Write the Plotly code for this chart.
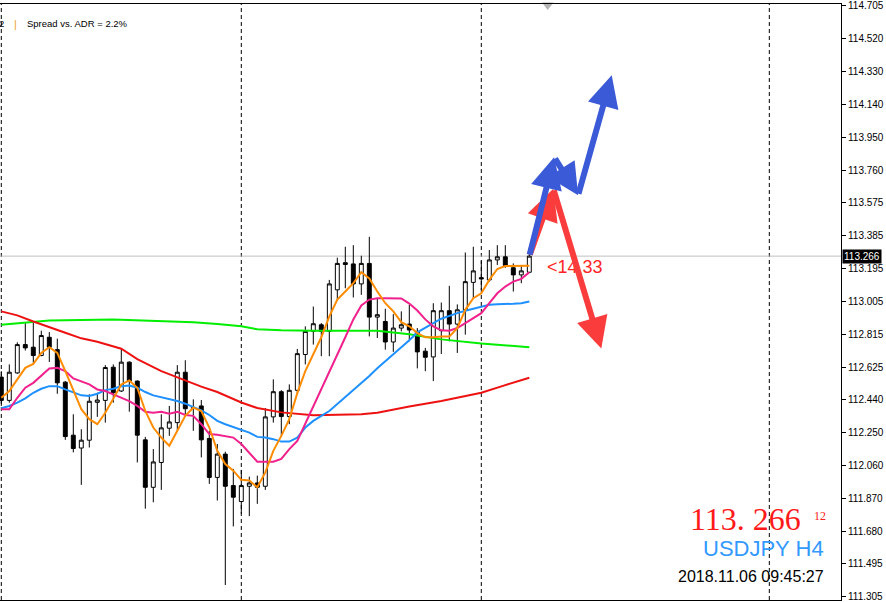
import plotly.graph_objects as go

# ---------------- data (USDJPY H4) ----------------
bars = list(range(67))
open_ = [112.570, 112.436, 112.594, 112.757, 112.742, 112.694, 112.799, 112.728, 112.541, 112.236,
         112.162, 112.207, 112.425, 112.436, 112.627, 112.490, 112.656, 112.547, 112.209, 111.936,
         112.079, 112.276, 112.308, 112.598, 112.395, 112.404, 112.217, 111.993, 112.127, 111.946,
         111.854, 111.942, 111.961, 111.942, 112.341, 112.486, 112.343, 112.494, 112.700, 112.833,
         112.871, 112.833, 113.072, 113.228, 113.221, 113.106, 113.224, 112.915, 112.890, 112.772,
         112.852, 112.875, 112.833, 112.719, 112.686, 112.837, 112.952, 112.875, 112.957, 113.115,
         113.142, 113.129, 113.244, 113.262, 113.199, 113.158, 113.173]
high = [112.604, 112.643, 112.770, 112.881, 112.886, 112.837, 112.829, 112.791, 112.547, 112.356,
        112.270, 112.471, 112.480, 112.639, 112.643, 112.734, 112.661, 112.551, 112.226, 112.156,
        112.356, 112.404, 112.639, 112.667, 112.442, 112.438, 112.261, 112.185, 112.141, 112.042,
        112.036, 111.997, 112.003, 112.392, 112.557, 112.495, 112.528, 112.732, 112.862, 112.976,
        112.881, 113.129, 113.257, 113.320, 113.329, 113.268, 113.377, 113.024, 112.963, 112.932,
        112.948, 112.986, 112.852, 112.738, 112.995, 112.999, 113.095, 112.988, 113.287, 113.320,
        113.240, 113.301, 113.329, 113.329, 113.224, 113.215, 113.314]
low = [112.404, 112.423, 112.589, 112.723, 112.652, 112.690, 112.657, 112.474, 112.209, 112.137,
       111.950, 112.165, 112.341, 112.308, 112.423, 112.484, 112.371, 112.079, 111.813, 111.850,
       111.921, 112.232, 112.261, 112.356, 112.261, 112.108, 111.956, 111.860, 111.374, 111.711,
       111.784, 111.770, 111.841, 111.921, 112.308, 112.228, 112.299, 112.477, 112.643, 112.757,
       112.690, 112.690, 113.015, 113.081, 113.028, 113.043, 112.804, 112.795, 112.728, 112.715,
       112.833, 112.776, 112.620, 112.604, 112.547, 112.703, 112.776, 112.709, 112.814, 113.024,
       113.072, 113.119, 113.215, 113.199, 113.062, 113.110, 113.171]
close = [112.436, 112.598, 112.757, 112.738, 112.694, 112.809, 112.742, 112.537, 112.228, 112.159,
         112.207, 112.431, 112.438, 112.625, 112.480, 112.656, 112.547, 112.236, 111.936, 112.082,
         112.278, 112.312, 112.598, 112.388, 112.390, 112.209, 111.993, 112.127, 111.942, 111.879,
         111.946, 111.961, 111.936, 112.341, 112.486, 112.343, 112.494, 112.705, 112.833, 112.877,
         112.833, 113.106, 113.224, 113.218, 113.106, 113.224, 112.915, 112.929, 112.772, 112.852,
         112.871, 112.841, 112.715, 112.684, 112.952, 112.952, 112.875, 112.957, 113.119, 113.181,
         113.135, 113.244, 113.262, 113.211, 113.158, 113.181, 113.266]

ma_orange = [112.451, 112.490, 112.557, 112.623, 112.646, 112.709, 112.742, 112.709, 112.604, 112.490,
             112.385, 112.328, 112.299, 112.365, 112.451, 112.528, 112.551, 112.509, 112.375, 112.280,
             112.222, 112.175, 112.261, 112.347, 112.394, 112.375, 112.280, 112.146, 112.070, 112.032,
             111.979, 111.975, 111.936, 112.022, 112.146, 112.232, 112.328, 112.478, 112.604, 112.701,
             112.799, 112.919, 113.016, 113.062, 113.110, 113.173, 113.138, 113.062, 112.995, 112.948,
             112.886, 112.862, 112.823, 112.799, 112.799, 112.804, 112.804, 112.852, 112.957, 113.024,
             113.052, 113.129, 113.192, 113.209, 113.211, 113.211, 113.211]
ma_pink = [112.385, 112.385, 112.451, 112.509, 112.537, 112.576, 112.620, 112.623, 112.604, 112.562,
           112.547, 112.528, 112.499, 112.490, 112.471, 112.451, 112.432, 112.404, 112.371, 112.365,
           112.371, 112.360, 112.371, 112.352, 112.347, 112.299, 112.242, 112.238, 112.232, 112.222,
           112.185, 112.137, 112.083, 112.083, 112.083, 112.099, 112.156, 112.203, 112.301, 112.404,
           112.495, 112.593, 112.696, 112.799, 112.902, 112.982, 113.016, 113.024, 113.024, 113.024,
           113.022, 112.993, 112.953, 112.902, 112.862, 112.839, 112.837, 112.852, 112.881, 112.909,
           112.938, 112.995, 113.052, 113.091, 113.119, 113.135, 113.173]
ma_blue = [112.391, 112.404, 112.423, 112.448, 112.480, 112.503, 112.518, 112.518, 112.499, 112.480,
           112.465, 112.461, 112.474, 112.495, 112.503, 112.518, 112.522, 112.509, 112.484, 112.465,
           112.455, 112.442, 112.432, 112.417, 112.398, 112.379, 112.352, 112.318, 112.299, 112.284,
           112.270, 112.251, 112.226, 112.222, 112.213, 112.199, 112.199, 112.222, 112.280, 112.318,
           112.347, 112.375, 112.415, 112.455, 112.495, 112.535, 112.576, 112.621, 112.661, 112.701,
           112.742, 112.782, 112.827, 112.856, 112.881, 112.906, 112.923, 112.938, 112.952, 112.963,
           112.976, 112.986, 112.989, 112.989, 112.992, 112.995, 113.005]
ma_green_bars = [0, 3, 6, 14, 18, 24, 27, 30, 32, 35, 39, 43, 47, 51, 55, 60, 66]
ma_green = [112.871, 112.885, 112.896, 112.902, 112.896, 112.886, 112.876, 112.862, 112.845, 112.839,
            112.837, 112.836, 112.836, 112.816, 112.787, 112.763, 112.742]
ma_red_bars = [0, 2, 4, 6, 8, 10, 12, 15, 17, 20, 22, 25, 27, 30, 32, 35, 39, 45, 47, 51, 55, 60, 63, 66]
ma_red = [112.948, 112.925, 112.890, 112.856, 112.825, 112.793, 112.773, 112.733, 112.673, 112.604,
          112.567, 112.515, 112.484, 112.424, 112.392, 112.367, 112.351, 112.356, 112.365, 112.401,
          112.432, 112.480, 112.524, 112.566]

separator_bars = [0, 30, 60, 96]

price_ticks = [114.705, 114.520, 114.330, 114.140, 113.950, 113.760, 113.575, 113.385, 113.195,
               113.005, 112.815, 112.625, 112.440, 112.250, 112.060, 111.870, 111.680, 111.495, 111.305]
tick_labels = ["114.705", "114.520", "114.330", "114.140", "113.950", "113.760", "113.575", "113.385",
               "113.195", "113.005", "112.815", "112.625", "112.440", "112.250", "112.060", "111.870",
               "111.680", "111.495", "111.305"]

blue_arrow_bars = [66, 69.1, 72.1, 76.3]
blue_arrow_prices = [113.266, 113.835, 113.616, 114.306]
red_arrow_bars = [66, 69.0, 75.0]
red_arrow_prices = [113.266, 113.653, 112.734]

current_price = 113.266
pips_label = "<14.33"
spread_text = "Spread vs. ADR = 2.2%"
symbol_text = "USDJPY H4"
time_text = "2018.11.06 09:45:27"
chart_shift_bar = 68.3

# ---------------- figure ----------------
Y0, Y1 = 111.2877, 114.7163
X0, X1 = -0.1625, 104.96

fig = go.Figure()

fig.add_trace(go.Candlestick(
    x=bars, open=open_, high=high, low=low, close=close,
    increasing=dict(line=dict(color="black", width=1), fillcolor="white"),
    decreasing=dict(line=dict(color="black", width=1), fillcolor="black"),
    whiskerwidth=0, showlegend=False, hoverinfo="skip"))

fig.add_trace(go.Scatter(x=ma_green_bars, y=ma_green, mode="lines",
                         line=dict(color="#00ee00", width=2), showlegend=False, hoverinfo="skip"))
fig.add_trace(go.Scatter(x=ma_red_bars, y=ma_red, mode="lines",
                         line=dict(color="#ee1111", width=2), showlegend=False, hoverinfo="skip"))
fig.add_trace(go.Scatter(x=bars, y=ma_blue, mode="lines",
                         line=dict(color="#1e90ff", width=2), showlegend=False, hoverinfo="skip"))
fig.add_trace(go.Scatter(x=bars, y=ma_pink, mode="lines",
                         line=dict(color="#f0208c", width=2), showlegend=False, hoverinfo="skip"))
fig.add_trace(go.Scatter(x=bars, y=ma_orange, mode="lines",
                         line=dict(color="#ff8c00", width=2), showlegend=False, hoverinfo="skip"))

# chart-shift marker
fig.add_trace(go.Scatter(x=[chart_shift_bar], y=[Y1 - 0.006], mode="markers",
                         marker=dict(symbol="triangle-down", size=10, color="#b4b4b4"),
                         cliponaxis=False, showlegend=False, hoverinfo="skip"))

shapes = []
for b in separator_bars:
    shapes.append(dict(type="line", xref="x", yref="paper", x0=b, x1=b, y0=0, y1=1,
                       line=dict(color="black", width=1, dash="4px,3px"), layer="below"))
shapes.append(dict(type="line", xref="paper", yref="y", x0=0, x1=1, y0=current_price, y1=current_price,
                   line=dict(color="#c0c0c0", width=1), layer="below"))

ann = []
# pips label (under the arrows)
ann.append(dict(x=bars[-1] + 1.96, y=current_price - 0.061, xref="x", yref="y", text=pips_label,
                showarrow=False, xanchor="left", yanchor="middle",
                font=dict(family="Liberation Sans, Arial", size=18, color="#ff2626")))


def arrows(bx, by, color):
    out = []
    for i in range(len(bx) - 1):
        out.append(dict(x=bx[i + 1], y=by[i + 1], ax=bx[i], ay=by[i], xref="x", yref="y",
                        axref="x", ayref="y", text="", showarrow=True, arrowhead=2,
                        arrowsize=1.05, arrowwidth=6, arrowcolor=color, standoff=0))
    return out


ann += arrows(red_arrow_bars, red_arrow_prices, "#fa3c3c")
ann += arrows(blue_arrow_bars, blue_arrow_prices, "#3a5ad8")

# current price box on axis
ann.append(dict(x=1, y=current_price, xref="paper", yref="y", text=f"{current_price:.3f}",
                showarrow=False, xanchor="left", yanchor="middle", xshift=1,
                bgcolor="black", borderpad=1,
                font=dict(family="Liberation Sans, Arial", size=10, color="white")))

# bottom-right info
ann.append(dict(x=0.9536, y=0.1352, xref="paper", yref="paper", text=f"{current_price:.3f}".replace(".", ". "),
                showarrow=False, xanchor="right", yanchor="middle", borderpad=0,
                font=dict(family="Liberation Serif, Times New Roman", size=32, color="#ff1a1a")))
ann.append(dict(x=0.9667, y=0.1411, xref="paper", yref="paper", text="12",
                showarrow=False, xanchor="left", yanchor="middle", borderpad=0,
                font=dict(family="Liberation Serif, Times New Roman", size=12, color="#ff1a1a")))
ann.append(dict(x=0.981, y=0.0868, xref="paper", yref="paper", text=symbol_text,
                showarrow=False, xanchor="right", yanchor="middle", borderpad=0,
                font=dict(family="Liberation Sans, Arial", size=22, color="#3399ff")))
ann.append(dict(x=0.981, y=0.0392, xref="paper", yref="paper", text=time_text,
                showarrow=False, xanchor="right", yanchor="middle", borderpad=0,
                font=dict(family="Liberation Sans, Arial", size=16, color="black")))

# top-left info line
ann.append(dict(x=-2 / 841, y=0.9666, xref="paper", yref="paper", text="2",
                showarrow=False, xanchor="left", yanchor="middle", borderpad=0,
                font=dict(family="Liberation Sans, Arial", size=9.5, color="black")))
ann.append(dict(x=13 / 841, y=0.9666, xref="paper", yref="paper", text="|",
                showarrow=False, xanchor="left", yanchor="middle", borderpad=0,
                font=dict(family="Liberation Sans, Arial", size=11, color="#f0a030")))
ann.append(dict(x=26 / 841, y=0.9666, xref="paper", yref="paper", text=spread_text,
                showarrow=False, xanchor="left", yanchor="middle", borderpad=0,
                font=dict(family="Liberation Sans, Arial", size=9.5, color="black")))

fig.update_layout(
    width=886, height=602,
    margin=dict(l=0, r=45, t=1, b=2),
    paper_bgcolor="white", plot_bgcolor="white",
    shapes=shapes, annotations=ann, showlegend=False,
    xaxis=dict(range=[X0, X1], showticklabels=False, showgrid=False, zeroline=False,
               showline=True, mirror=True, linecolor="black", linewidth=1, ticks="",
               rangeslider=dict(visible=False), fixedrange=True),
    yaxis=dict(range=[Y0, Y1], side="right", tickvals=price_ticks, ticktext=tick_labels,
               ticks="outside", ticklen=4, tickcolor="black", showline=True, linecolor="black",
               linewidth=1, showgrid=False, zeroline=False, fixedrange=True,
               ticklabeloverflow="allow",
               tickfont=dict(family="Liberation Sans, Arial", size=10, color="black")),
)

fig.write_html("out.html", config=dict(displayModeBar=False),
               post_script="document.body.style.margin='0';document.body.style.overflow='hidden';")
